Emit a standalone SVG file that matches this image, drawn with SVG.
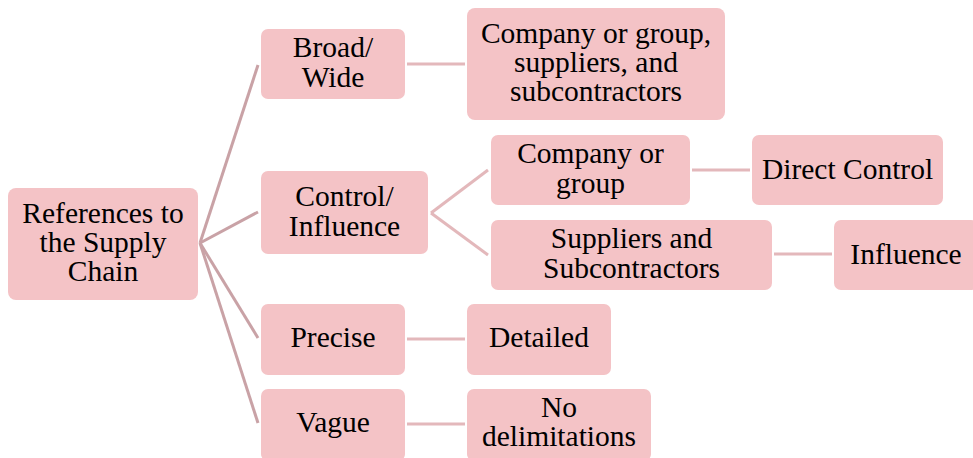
<svg xmlns="http://www.w3.org/2000/svg" width="973" height="458" viewBox="0 0 973 458">
<style>
.n rect{fill:#F4C3C6;}
.n text{font-family:"Liberation Serif","Times New Roman",serif;font-size:29.5px;fill:#000;text-anchor:middle;}
.root line{stroke:#C9A2A6;stroke-width:3;stroke-linecap:butt;}
.sub line{stroke:#E3B8BB;stroke-width:3;}
</style>
<rect width="973" height="458" fill="#fff"/>
<g id="connectors">
<g class="root">
<line x1="200" y1="243" x2="258" y2="65"/>
<line x1="200" y1="243" x2="258" y2="212"/>
<line x1="200" y1="243" x2="258" y2="338"/>
<line x1="200" y1="243" x2="258" y2="423"/>
</g>
<g class="sub">
<line x1="431" y1="213" x2="488" y2="170"/>
<line x1="431" y1="213" x2="488" y2="255"/>
<line x1="407" y1="64" x2="465" y2="64"/>
<line x1="692" y1="170" x2="750" y2="170"/>
<line x1="774" y1="254" x2="832" y2="254"/>
<line x1="407" y1="339" x2="465" y2="339"/>
<line x1="407" y1="424" x2="465" y2="424"/>
</g>
</g>
<g id="root" class="n"><rect x="8" y="188" width="190" height="112" rx="8"/>
<text x="103" y="223">References to</text><text x="103" y="252">the Supply</text><text x="103" y="281">Chain</text></g>
<g id="broad" class="n"><rect x="261" y="29" width="144" height="70" rx="7"/>
<text x="333" y="57">Broad/</text><text x="333" y="87">Wide</text></g>
<g id="company-suppliers" class="n"><rect x="467" y="8" width="258" height="112" rx="8"/>
<text x="596" y="43">Company or group,</text><text x="596" y="72">suppliers, and</text><text x="596" y="101">subcontractors</text></g>
<g id="control" class="n"><rect x="261" y="171" width="167" height="83" rx="7"/>
<text x="344.5" y="206">Control/</text><text x="344.5" y="236">Influence</text></g>
<g id="company" class="n"><rect x="491" y="135" width="199" height="70" rx="7"/>
<text x="590.5" y="163">Company or</text><text x="590.5" y="193">group</text></g>
<g id="direct" class="n"><rect x="752" y="135" width="191" height="70" rx="7"/>
<text x="847.5" y="179">Direct Control</text></g>
<g id="suppliers" class="n"><rect x="491" y="220" width="281" height="70" rx="7"/>
<text x="631.5" y="248">Suppliers and</text><text x="631.5" y="278">Subcontractors</text></g>
<g id="influence" class="n"><rect x="834" y="220" width="144" height="70" rx="7"/>
<text x="906" y="264">Influence</text></g>
<g id="precise" class="n"><rect x="261" y="304" width="144" height="71" rx="7"/>
<text x="333" y="347">Precise</text></g>
<g id="detailed" class="n"><rect x="467" y="304" width="144" height="71" rx="7"/>
<text x="539" y="347">Detailed</text></g>
<g id="vague" class="n"><rect x="261" y="389" width="144" height="72" rx="7"/>
<text x="333" y="432">Vague</text></g>
<g id="nodelim" class="n"><rect x="467" y="389" width="184" height="72" rx="7"/>
<text x="559" y="417">No</text><text x="559" y="446">delimitations</text></g>
</svg>
